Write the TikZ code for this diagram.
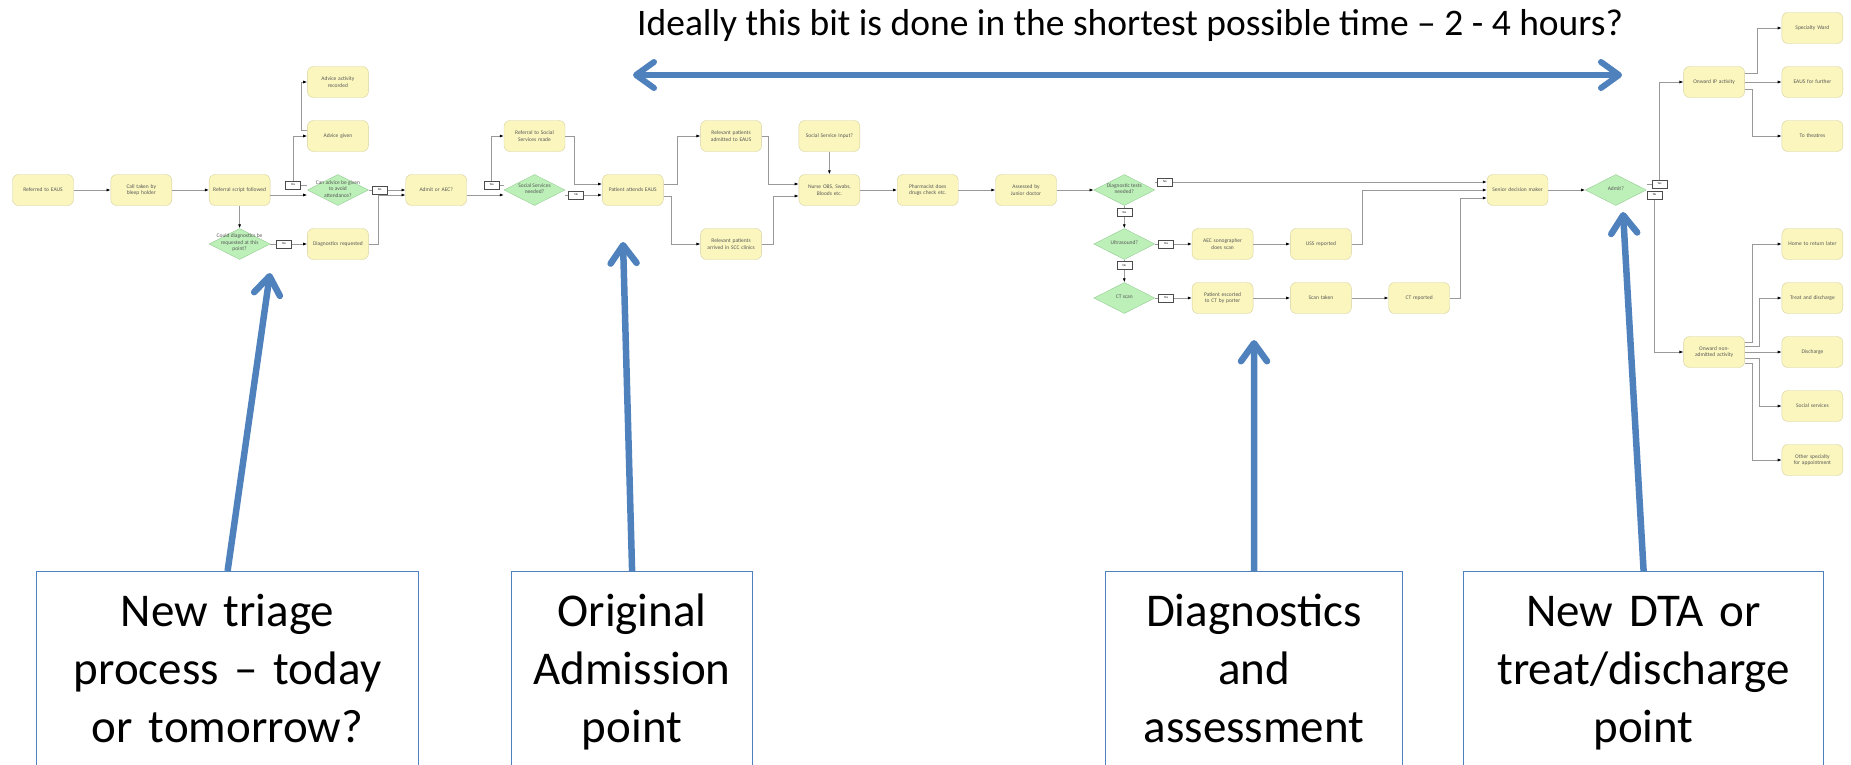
\documentclass[tikz,border=0pt]{standalone}
\usepackage{fontspec}
\setmainfont{Carlito}
\usetikzlibrary{positioning,shapes.geometric,arrows.meta}
\hyphenpenalty=10000
\definecolor{stepfill}{RGB}{250,246,189}
\definecolor{stepline}{RGB}{214,208,160}
\definecolor{decfill}{RGB}{188,240,184}
\definecolor{decline}{RGB}{150,204,148}
\definecolor{noteblue}{RGB}{79,129,189}
\newcommand{\dectext}[1]{\makebox[0pt]{\raisebox{0pt}[0pt][0pt]{\parbox{46pt}{\centering #1}}}}
\tikzset{step node/.style={rectangle,rounded corners=6pt,draw=stepline,fill=stepfill,minimum width=61pt,minimum height=31pt,inner sep=1pt,text width=54pt,align=center,text=black!65,font=\fontsize{5.5}{6.5}\selectfont},
  decision node/.style={diamond,draw=decline,fill=decfill,minimum width=61pt,minimum height=31pt,inner sep=0pt,text=black!65,font=\fontsize{5.5}{6.5}\selectfont},
  flow/.style={draw=black!40,line width=0.7pt,-{Latex[length=4pt,width=3pt,color=black]}},
  tag node/.style={rectangle,draw=black!70,fill=white,line width=0.6pt,minimum width=15pt,minimum height=8pt,inner sep=0.5pt,font=\fontsize{3}{3}\selectfont},
  note node/.style={rectangle,draw=noteblue,line width=1.2pt,fill=white,anchor=north west,inner sep=0pt,align=center,text height=55pt,text depth=220pt,font=\fontsize{47}{58}\selectfont},
  big arrow/.style={draw=noteblue,line width=6.5pt,-{Straight Barb[length=18pt,width=26pt,round]}} }

\begin{document}
\begin{tikzpicture}[x=1pt,y=-1pt]
\useasboundingbox (0,0) rectangle (1851,764);
\clip (0,0) rectangle (1851,764);
\begin{scope}[on grid, node distance=54pt and 98.3pt]

  % triage and referral
  \node[step node] (ref) at (43,190) {Referred to EAUS};
  \node[step node, right=of ref] (call) {Call taken by bleep holder};
  \node[step node, right=of call] (script) {Referral script followed};
  \node[decision node, right=of script] (canadv) {\dectext{Can advice be given to avoid attendance?}};
  \node[step node, above=of canadv] (advgiven) {Advice given};
  \node[step node, above=of advgiven] (advrec) {Advice activity recorded};
  \node[decision node, below=of script] (coulddiag) {\dectext{Could diagnostics be requested at this point?}};
  \node[step node, below=of canadv] (diagreq) {Diagnostics requested};
  \node[step node, right=of canadv] (admitaec) {Admit or AEC?};
  \node[decision node, right=of admitaec] (ssneed) {\dectext{Social Services needed?}};
  \node[step node, above=of ssneed] (ssref) {Referral to Social Services made};

  % admission
  \node[step node, right=of ssneed] (attends) {Patient attends EAUS};
  \node[step node, above right=of attends] (reladm) {Relevant patients admitted to EAUS};
  \node[step node, below right=of attends] (relarr) {Relevant patients arrived in SCC clinics};
  \node[step node, right=196.6pt of attends] (nurse) {Nurse OBS, Swabs, Bloods etc.};
  \node[step node, above=of nurse] (ssinput) {Social Service Input?};
  \node[step node, right=of nurse] (pharm) {Pharmacist does drugs check etc.};
  \node[step node, right=of pharm] (assessed) {Assessed by Junior doctor};

  % diagnostics
  \node[decision node, right=of assessed] (diagneed) {\dectext{Diagnostic tests needed?}};
  \node[decision node, below=of diagneed] (ultra) {\dectext{Ultrasound?}};
  \node[decision node, below=of ultra] (ctscan) {\dectext{CT scan}};
  \node[step node, right=of ultra] (aecscan) {AEC sonographer does scan};
  \node[step node, right=of aecscan] (uss) {USS reported};
  \node[step node, right=of ctscan] (escort) {Patient escorted to CT by porter};
  \node[step node, right=of escort] (scantaken) {Scan taken};
  \node[step node, right=of scantaken] (ctrep) {CT reported};

  % decision
  \node[step node, right=393.2pt of diagneed] (senior) {Senior decision maker};
  \node[decision node, right=of senior] (admit) {\dectext{Admit?}};
  \node[step node, above right=108pt and 98.3pt of admit] (onwardip) {Onward IP activity};
  \node[step node, right=of onwardip] (eausfur) {EAUS for further};
  \node[step node, above=of eausfur] (specialty) {Specialty Ward};
  \node[step node, below=of eausfur] (theatres) {To theatres};
  \node[step node, below right=162pt and 98.3pt of admit] (nonadm) {Onward non-admitted activity};
  \node[step node, right=of nonadm] (discharge) {Discharge};
  \node[step node, above=of discharge] (treat) {Treat and discharge};
  \node[step node, above=of treat] (home) {Home to return later};
  \node[step node, below=of discharge] (social) {Social services};
  \node[step node, below=of social] (other) {Other specialty for appointment};

    \path
    (ref) edge[flow] (call)
    (call) edge[flow] (script)
    ([yshift=-5pt]script.east) edge[flow] ([yshift=-5pt]canadv.west)
    (canadv) edge[flow] node[tag node, pos=0.3] {No} (admitaec)
    (script) edge[flow] (coulddiag)
    (coulddiag) edge[flow] node[tag node, pos=0.37] {Yes} (diagreq)
    ([yshift=-5pt]admitaec.east) edge[flow] ([yshift=-5pt]ssneed.west)
    ([yshift=-5pt]ssneed.east) edge[flow] node[tag node, pos=0.3] {No} ([yshift=-5pt]attends.west)
    (ssinput) edge[flow] (nurse)
    (nurse) edge[flow] (pharm)
    (pharm) edge[flow] (assessed)
    (assessed) edge[flow] (diagneed)
    ([yshift=8pt]diagneed.east) edge[flow] node[tag node, pos=0.03] {No} ([yshift=8pt]senior.west)
    (diagneed) edge[flow] node[tag node, pos=0.3] {Yes} (ultra)
    (ultra) edge[flow] node[tag node, pos=0.3] {Yes} (aecscan)
    (aecscan) edge[flow] (uss)
    (ultra) edge[flow] node[tag node, pos=0.25] {No} (ctscan)
    (ctscan) edge[flow] node[tag node, pos=0.3] {Yes} (escort)
    (escort) edge[flow] (scantaken)
    (scantaken) edge[flow] (ctrep)
    (senior) edge[flow] (admit)
    (onwardip) edge[flow] (eausfur)
    (nonadm) edge[flow] (discharge)
    ;

  \draw[flow] ([yshift=5pt]canadv.west) -- ++(-14,0) node[tag node] {Yes} |- (advgiven.west);
  \draw[flow] ([yshift=6pt]advgiven.west) -- ++(-6,0) |- (advrec.west);
  \draw[flow] (diagreq.east) -- ++(10,0) |- ([yshift=-5pt]admitaec.west);
  \draw[flow] ([yshift=5pt]ssneed.west) -- ++(-12,0) node[tag node] {Yes} |- (ssref.west);
  \draw[flow] (ssref.east) -- ++(9,0) |- ([yshift=6pt]attends.west);
  \draw[flow] ([yshift=6pt]attends.east) -- ++(14,0) |- (reladm.west);
  \draw[flow] ([yshift=-6pt]attends.east) -- ++(8,0) |- (relarr.west);
  \draw[flow] (reladm.east) -- ++(7,0) |- ([yshift=6pt]nurse.west);
  \draw[flow] (relarr.east) -- ++(12,0) |- ([yshift=-6pt]nurse.west);
  \draw[flow] (uss.east) -- ++(11,0) |- (senior.west);
  \draw[flow] (ctrep.east) -- ++(10,0) |- ([yshift=-8pt]senior.west);
  \draw[flow] ([yshift=-5pt]admit.east) -- ++(8,0) node[tag node] {No} |- (nonadm.west);
  \draw[flow] ([yshift=6pt]admit.east) -- ++(13,0) node[tag node] {Yes} |- (onwardip.west);
  \draw[flow] ([yshift=9pt]onwardip.east) -- ++(13,0) |- (specialty.west);
  \draw[flow] ([yshift=-7pt]onwardip.east) -- ++(8,0) |- (theatres.west);
  \draw[flow] ([yshift=10pt]nonadm.east) -- ++(8,0) |- (home.west);
  \draw[flow] ([yshift=6pt]nonadm.east) -- ++(15,0) |- (treat.west);
  \draw[flow] ([yshift=-6pt]nonadm.east) -- ++(15,0) |- (social.west);
  \draw[flow] ([yshift=-11pt]nonadm.east) -- ++(8,0) |- (other.west);
\end{scope}

  % notes
  \node[font=\fontsize{37.5}{44}\selectfont, anchor=base west, inner sep=0pt] (span) at (637,35) {Ideally this bit is done in the shortest possible time – 2 - 4 hours?};
  \coordinate (spanleft) at (633,75);
  \coordinate (spanright) at (1622,75);
  \draw[big arrow, line width=6pt, {Straight Barb[length=18pt,width=26pt,round]}-{Straight Barb[length=18pt,width=26pt,round]}] (spanleft) -- (spanright);

  \node[note node, text width=382pt] (triage) at (36,571) {New triage\\process – today\\or tomorrow?};
  \node[note node, text width=241pt] (orig) at (511,571) {Original\\Admission\\point};
  \node[note node, text width=297pt] (diagass) at (1105,571) {Diagnostics\\and\\assessment};
  \node[note node, text width=360pt] (dta) at (1463,571) {New DTA or\\treat/discharge\\point};

  \coordinate (triagetip) at (270,273);
  \coordinate (origtip) at (623,242);
  \coordinate (diagtip) at (1254,340);
  \coordinate (dtatip) at (1623,212);
  \draw[big arrow] (triage.north) -- (triagetip);
  \draw[big arrow] (orig.north) -- (origtip);
  \draw[big arrow] (diagass.north) -- (diagtip);
  \draw[big arrow] (dta.north) -- (dtatip);
\end{tikzpicture}
\end{document}
